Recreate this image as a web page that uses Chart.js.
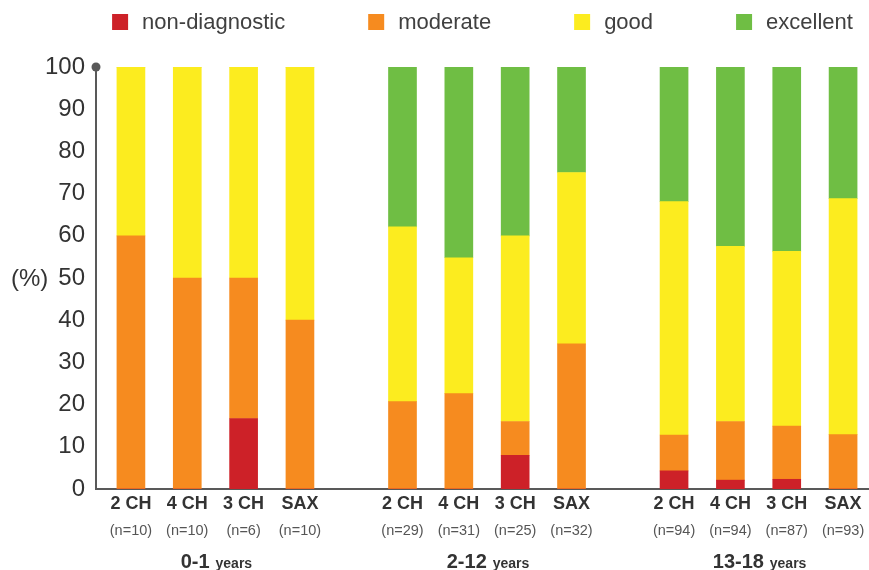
<!DOCTYPE html>
<html>
<head>
<meta charset="utf-8">
<title>Image quality by view and age group</title>
<script src="https://cdn.jsdelivr.net/npm/chart.js@4.4.1/dist/chart.umd.min.js"></script>
<style>
    html, body { margin: 0; padding: 0; background: #fff; }
    #wrap { width: 869px; height: 570px; position: relative; }
</style>
</head>
<body>
<div id="wrap"><canvas id="qualityChart"></canvas></div>
<script>
// Data (percent of studies per quality level), order: 2 CH, 4 CH, 3 CH, SAX per age group
const ageGroups = ['0-1', '2-12', '13-18'];
const views = ['2 CH', '4 CH', '3 CH', 'SAX'];
const sampleSizes = [10, 10, 6, 10, 29, 31, 25, 32, 94, 94, 87, 93];
const levels = ['non-diagnostic', 'moderate', 'good', 'excellent'];

const nonDiagnostic = [0, 0, 16.7, 0, 0, 0, 8, 0, 4.3, 2.1, 2.3, 0];
const moderate = [60, 50, 33.3, 40, 20.7, 22.6, 8, 34.4, 8.5, 13.9, 12.6, 12.9];
const good = [40, 50, 50, 60, 41.4, 32.2, 44, 40.6, 55.3, 41.5, 41.4, 55.9];
const excellent = [0, 0, 0, 0, 37.9, 45.2, 40, 25, 31.9, 42.5, 43.7, 31.2];

const yTicks = [0, 10, 20, 30, 40, 50, 60, 70, 80, 90, 100];

// Styling
const levelColors = ['#cd2128', '#f68b1f', '#fcec1f', '#6fbe44'];
const textColor = '#333333';
const axisColor = '#595959';
const GROUP_STEP = 4.82; // distance between first bars of neighbouring age groups (in bar slots)

Chart.defaults.font.family = "'Liberation Sans', Arial, Helvetica, sans-serif";
Chart.defaults.color = textColor;

// Bar slot on the x axis: age group offset plus view index
function barPosition(i) {
    return Math.floor(i / views.length) * GROUP_STEP + (i % views.length);
}

function toPoints(values) {
    return values.map((v, i) => ({ x: barPosition(i), y: v }));
}

const series = [nonDiagnostic, moderate, good, excellent];
const datasets = series.map((values, k) => ({
    label: levels[k],
    data: toPoints(values),
    backgroundColor: levelColors[k],
    borderWidth: 0,
    barThickness: 28
}));

// Legend, axis dot, "(%)" and the two-level x labels
const decorations = {
    id: 'decorations',
    afterDraw(chart) {
        const ctx = chart.ctx;
        const area = chart.chartArea;
        const yScale = chart.scales.y;
        const bars = chart.getDatasetMeta(0).data;

        ctx.save();

        // dot on top of the y axis
        ctx.fillStyle = axisColor;
        ctx.beginPath();
        ctx.arc(area.left, yScale.getPixelForValue(100), 4.5, 0, Math.PI * 2);
        ctx.fill();

        // y axis unit
        ctx.fillStyle = textColor;
        ctx.font = "24px 'Liberation Sans', Arial, sans-serif";
        ctx.textAlign = 'left';
        ctx.textBaseline = 'middle';
        ctx.fillText('(%)', 11, yScale.getPixelForValue(50) + 1);

        // view names and sample sizes under each bar
        ctx.textAlign = 'center';
        bars.forEach((bar, i) => {
            ctx.fillStyle = textColor;
            ctx.font = "bold 18px 'Liberation Sans', Arial, sans-serif";
            ctx.fillText(views[i % views.length], bar.x, 504);
            ctx.fillStyle = '#555555';
            ctx.font = "14.5px 'Liberation Sans', Arial, sans-serif";
            ctx.fillText('(n=' + sampleSizes[i] + ')', bar.x, 531);
        });

        // age group labels
        ctx.textBaseline = 'alphabetic';
        ctx.textAlign = 'left';
        ageGroups.forEach((name, g) => {
            const first = bars[g * views.length].x;
            const last = bars[g * views.length + views.length - 1].x;
            const center = (first + last) / 2;
            const bigFont = "bold 20px 'Liberation Sans', Arial, sans-serif";
            const smallFont = "bold 14px 'Liberation Sans', Arial, sans-serif";
            ctx.font = bigFont;
            const w1 = ctx.measureText(name).width;
            ctx.font = smallFont;
            const w2 = ctx.measureText(' years').width;
            let x = center - (w1 + w2) / 2;
            ctx.fillStyle = textColor;
            ctx.font = bigFont;
            ctx.fillText(name, x, 568);
            ctx.font = smallFont;
            ctx.fillText(' years', x + w1 + 2, 568);
        });

        // legend
        const boxSize = 16;
        const boxGap = 14;
        const itemGap = 83;
        ctx.font = "22px 'Liberation Sans', Arial, sans-serif";
        const widths = levels.map(l => boxSize + boxGap + ctx.measureText(l).width);
        const total = widths.reduce((a, b) => a + b, 0) + itemGap * (levels.length - 1);
        let lx = (area.left + area.right) / 2 - total / 2;
        const ly = 22;
        ctx.textBaseline = 'middle';
        levels.forEach((l, k) => {
            ctx.fillStyle = levelColors[k];
            ctx.fillRect(lx, ly - boxSize / 2, boxSize, boxSize);
            ctx.fillStyle = '#404040';
            ctx.fillText(l, lx + boxSize + boxGap, ly + 1);
            lx += widths[k] + itemGap;
        });

        ctx.restore();
    }
};

const chart = new Chart(document.getElementById('qualityChart'), {
    type: 'bar',
    data: { datasets: datasets },
    options: {
        responsive: true,
        maintainAspectRatio: false,
        animation: false,
        layout: { padding: { top: 67, right: 0, bottom: 0, left: 0 } },
        plugins: {
            legend: { display: false },
            tooltip: { enabled: false }
        },
        scales: {
            x: {
                type: 'linear',
                stacked: true,
                offset: false,
                bounds: 'ticks',
                min: -0.62,
                max: 13.1,
                grid: { display: false, offset: false },
                border: { display: true, color: axisColor, width: 2 },
                ticks: { display: false },
                afterFit(scale) { scale.height = 81; }
            },
            y: {
                stacked: true,
                min: 0,
                max: 100,
                grid: { display: false },
                border: { display: true, color: axisColor, width: 2 },
                afterBuildTicks(scale) { scale.ticks = yTicks.map(v => ({ value: v })); },
                ticks: {
                    padding: 3,
                    color: textColor,
                    font: { size: 24 }
                },
                afterFit(scale) { scale.width = 96; }
            }
        }
    },
    plugins: [decorations]
});
</script>
</body>
</html>
